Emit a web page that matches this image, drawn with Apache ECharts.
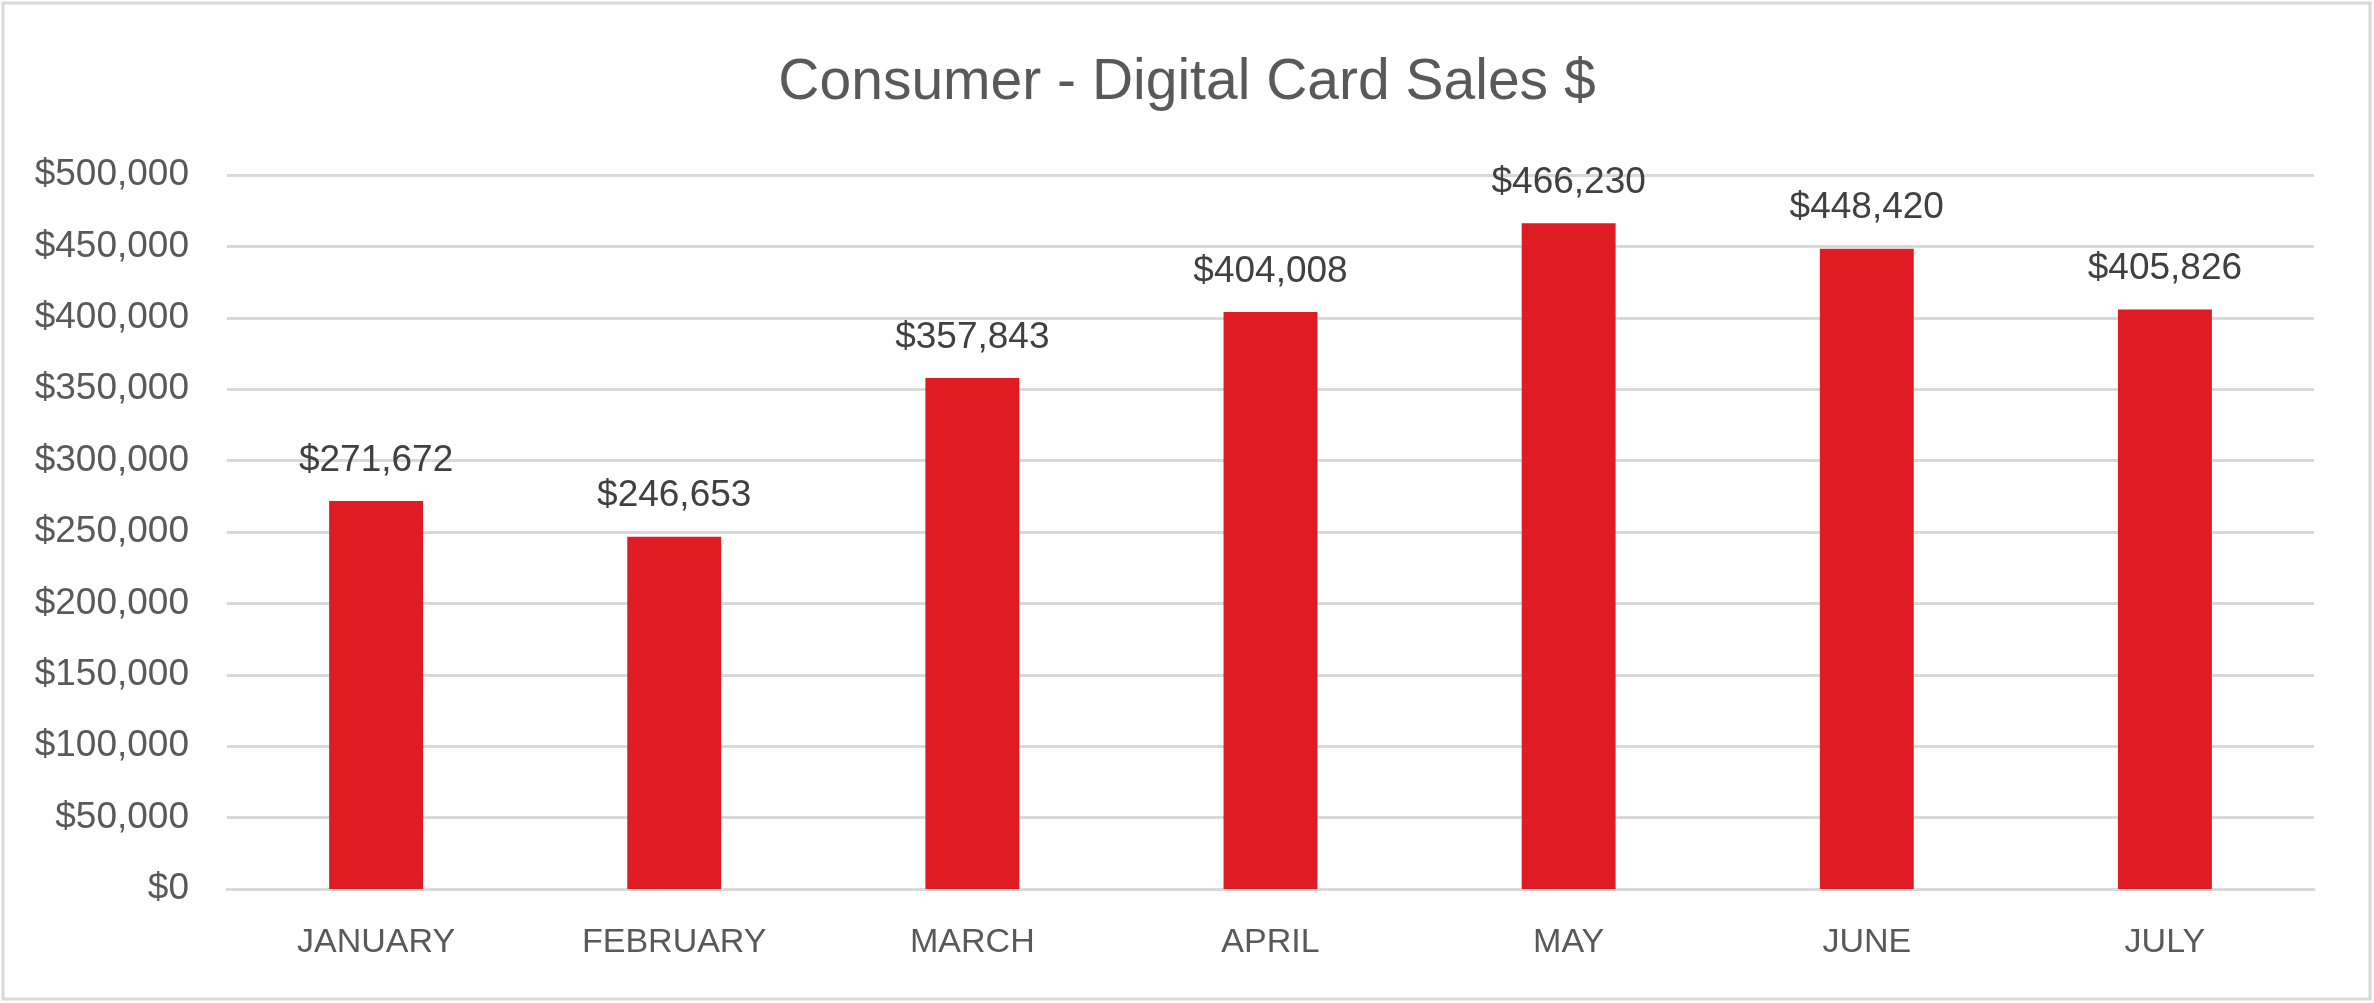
<!DOCTYPE html>
<html>
<head>
<meta charset="utf-8">
<title>Consumer - Digital Card Sales $</title>
<script src="https://cdn.jsdelivr.net/npm/echarts@6/dist/echarts.min.js"></script>
<style>
  html, body { margin: 0; padding: 0; background: #fff; }
  #main { width: 2374px; height: 1003px; }
</style>
</head>
<body>
<div id="main"></div>
<script>
// chart data
var months = ['JANUARY', 'FEBRUARY', 'MARCH', 'APRIL', 'MAY', 'JUNE', 'JULY'];
var sales = [271672, 246653, 357843, 404008, 466230, 448420, 405826];

function money(v) {
    return '$' + Math.round(v).toString().replace(/\B(?=(\d{3})+(?!\d))/g, ',');
}

var myChart = echarts.init(document.getElementById('main'));

var option = {
    backgroundColor: '#ffffff',
    textStyle: { fontFamily: 'Liberation Sans, Arial, sans-serif' },
    title: {
        text: 'Consumer - Digital Card Sales $',
        left: 'center',
        top: 50,
        textStyle: {
            fontSize: 57,
            fontWeight: 'normal',
            color: '#595959',
            fontFamily: 'Liberation Sans, Arial, sans-serif'
        }
    },
    graphic: [{
        type: 'rect',
        shape: { x: 3, y: 3, width: 2367, height: 996 },
        style: { fill: 'none', stroke: '#d9d9d9', lineWidth: 3 },
        silent: true
    }],
    grid: {
        left: 227,
        right: 60,
        top: 175,
        bottom: 114
    },
    xAxis: {
        type: 'category',
        data: months,
        axisLine: { show: true, lineStyle: { color: '#d9d9d9', width: 3 } },
        axisTick: { show: false },
        axisLabel: {
            color: '#595959',
            fontSize: 34,
            margin: 37
        }
    },
    yAxis: {
        type: 'value',
        min: 0,
        max: 500000,
        interval: 50000,
        axisLine: { show: false },
        axisTick: { show: false },
        splitLine: { lineStyle: { color: '#d9d9d9', width: 3 } },
        axisLabel: {
            color: '#595959',
            fontSize: 37,
            margin: 38,
            formatter: money
        }
    },
    series: [{
        type: 'bar',
        data: sales,
        barWidth: '31.5%',
        itemStyle: { color: '#df1c24' },
        label: {
            show: true,
            position: 'top',
            distance: 22,
            color: '#404040',
            fontSize: 37,
            formatter: function (p) { return money(p.value); }
        }
    }]
};

myChart.setOption(option);
</script>
</body>
</html>
